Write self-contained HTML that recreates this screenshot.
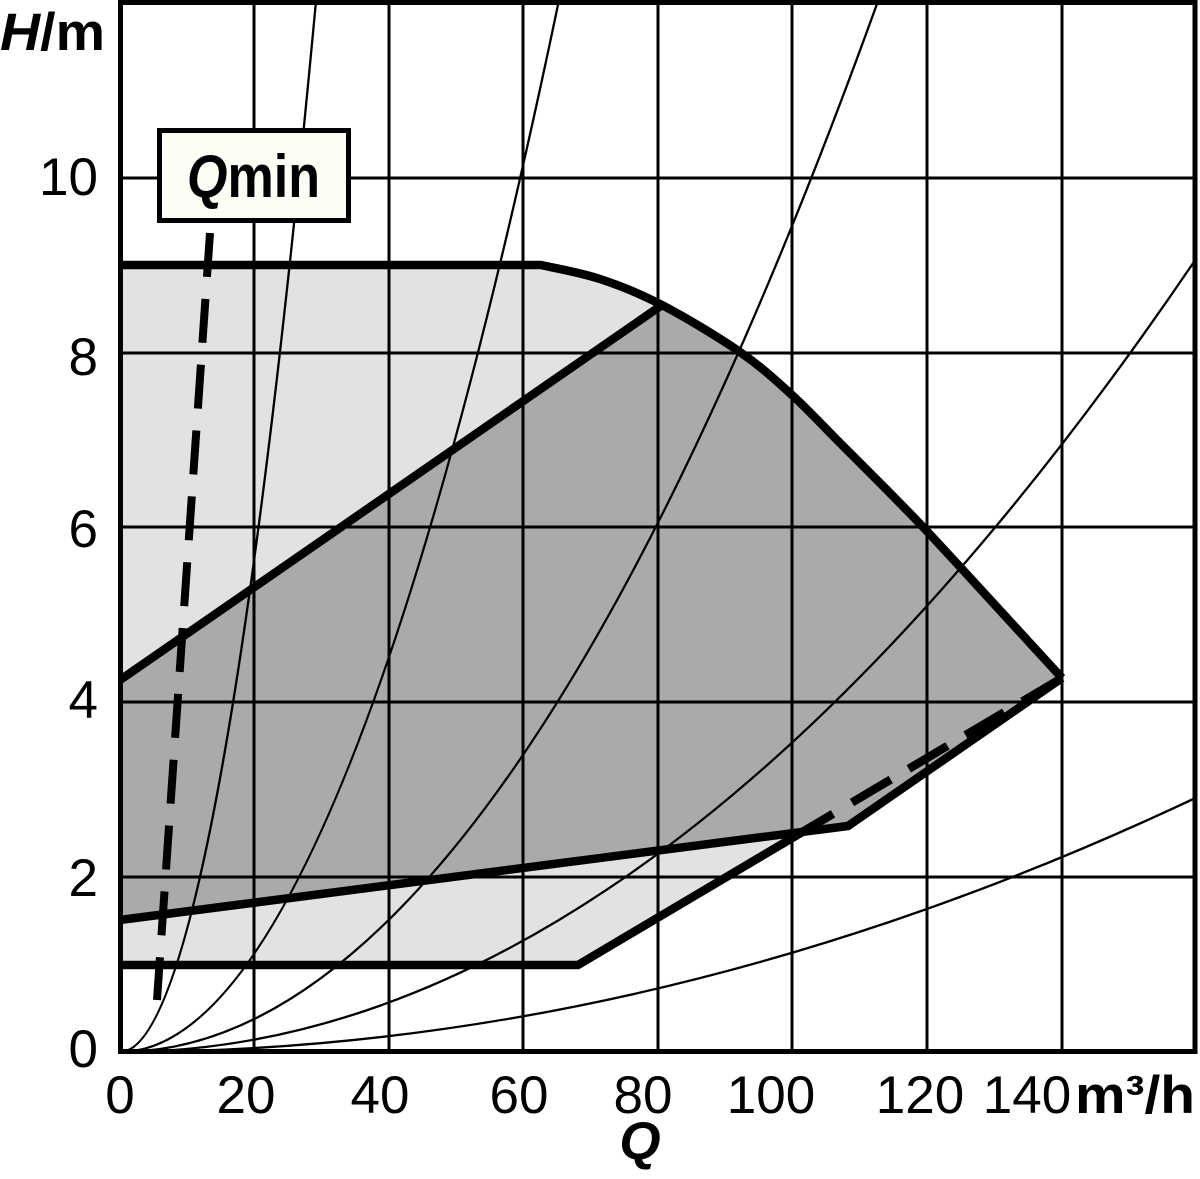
<!DOCTYPE html>
<html>
<head>
<meta charset="utf-8">
<style>
  html, body { margin:0; padding:0; background:#ffffff; }
  svg { display:block; }
  text { font-family: "Liberation Sans", "DejaVu Sans", sans-serif; fill:#000; }
</style>
</head>
<body>
<svg width="1200" height="1179" viewBox="0 0 1200 1179" xmlns="http://www.w3.org/2000/svg">
  <defs>
    <clipPath id="plot">
      <rect x="120" y="3" width="1075" height="1049"/>
    </clipPath>
  </defs>
  <rect x="0" y="0" width="1200" height="1179" fill="#ffffff"/>

  <g clip-path="url(#plot)">
    <!-- light grey region -->
    <path d="M120,265 L541,265 C550.8,267.3 579.8,272.3 600,279 C620.2,285.7 638.7,292.8 662,305 C685.3,317.2 718.3,337 740,352 C761.7,367 775.3,379.8 792,395 C808.7,410.2 824.2,427.2 840,443 C855.8,458.8 873.2,476 887,490 C900.8,504 910.5,513.8 923,527 C935.5,540.2 938.8,543.8 962,569 C985.2,594.2 1045.3,659.8 1062,678 L578,965 L120,965 Z" fill="#e2e2e2"/>
    <!-- dark grey region -->
    <path d="M120,680 L662,305 C685.3,317.2 718.3,337 740,352 C761.7,367 775.3,379.8 792,395 C808.7,410.2 824.2,427.2 840,443 C855.8,458.8 873.2,476 887,490 C900.8,504 910.5,513.8 923,527 C935.5,540.2 938.8,543.8 962,569 C985.2,594.2 1045.3,659.8 1062,678 L848,826 L120,920 Z" fill="#abaaab"/>

    <!-- grid -->
    <g stroke="#000" stroke-width="3">
      <line x1="254" y1="0" x2="254" y2="1060"/>
      <line x1="389" y1="0" x2="389" y2="1060"/>
      <line x1="523" y1="0" x2="523" y2="1060"/>
      <line x1="658" y1="0" x2="658" y2="1060"/>
      <line x1="792" y1="0" x2="792" y2="1060"/>
      <line x1="927" y1="0" x2="927" y2="1060"/>
      <line x1="1062" y1="0" x2="1062" y2="1060"/>
      <line x1="110" y1="877" x2="1200" y2="877"/>
      <line x1="110" y1="702" x2="1200" y2="702"/>
      <line x1="110" y1="527" x2="1200" y2="527"/>
      <line x1="110" y1="353" x2="1200" y2="353"/>
      <line x1="110" y1="178" x2="1200" y2="178"/>
    </g>

    <!-- system curves (parabolas) -->
    <g stroke="#000" stroke-width="2.3" fill="none">
      <path d="M120,1052 Q218.05,1052 316.1,0"/>
      <path d="M120,1052 Q339.5,1052 559,0"/>
      <path d="M120,1052 Q499.2,1052 878.4,0"/>
      <path d="M120,1052 Q660,1052 1200,253"/>
      <path d="M120,1052 Q660,1052 1200,795.8"/>
    </g>

    <!-- thick boundary lines -->
    <g stroke="#000" stroke-width="8.5" fill="none" stroke-linejoin="round">
      <path d="M115,265 L541,265 C550.8,267.3 579.8,272.3 600,279 C620.2,285.7 638.7,292.8 662,305 C685.3,317.2 718.3,337 740,352 C761.7,367 775.3,379.8 792,395 C808.7,410.2 824.2,427.2 840,443 C855.8,458.8 873.2,476 887,490 C900.8,504 910.5,513.8 923,527 C935.5,540.2 938.8,543.8 962,569 C985.2,594.2 1045.3,659.8 1062,678"/>
      <path d="M115,683.5 L662,305"/>
      <path d="M115,920.6 L848,826 L1062,678"/>
      <path d="M115,965 L578,965 L833,813.8"/>
      <path d="M852,802.5 L1062,678" stroke-dasharray="45 21"/>
    </g>

    <!-- Qmin dashed line -->
    <path d="M210,233 L157,1000" stroke="#000" stroke-width="8" fill="none" stroke-dasharray="44 22"/>
  </g>

  <!-- frame -->
  <rect x="120.5" y="2.5" width="1074.5" height="1049" fill="none" stroke="#000" stroke-width="5"/>

  <!-- Qmin box -->
  <rect x="159.5" y="130.5" width="189" height="90" fill="#fdfdf6" stroke="#000" stroke-width="5"/>
  <text x="187" y="197" font-size="60" font-weight="bold" textLength="133" lengthAdjust="spacingAndGlyphs"><tspan font-style="italic">Q</tspan>min</text>

  <!-- y axis title -->
  <text x="0" y="50" font-size="53" font-weight="bold" textLength="105" lengthAdjust="spacingAndGlyphs"><tspan font-style="italic">H</tspan>/m</text>

  <!-- y tick labels -->
  <g font-size="53" text-anchor="end">
    <text x="98" y="195">10</text>
    <text x="98" y="375">8</text>
    <text x="98" y="547">6</text>
    <text x="98" y="718">4</text>
    <text x="98" y="896">2</text>
    <text x="98" y="1067">0</text>
  </g>

  <!-- x tick labels -->
  <g font-size="53" text-anchor="middle">
    <text x="120" y="1113">0</text>
    <text x="246" y="1113">20</text>
    <text x="380" y="1113">40</text>
    <text x="519" y="1113">60</text>
    <text x="643" y="1113">80</text>
    <text x="771" y="1113">100</text>
    <text x="920" y="1113">120</text>
    <text x="1027" y="1113">140</text>
  </g>
  <text x="1075" y="1113" font-size="53" font-weight="bold" textLength="120" lengthAdjust="spacingAndGlyphs">m³/h</text>

  <!-- x axis title -->
  <text x="640" y="1159" font-size="53" font-weight="bold" font-style="italic" text-anchor="middle">Q</text>
</svg>
</body>
</html>
